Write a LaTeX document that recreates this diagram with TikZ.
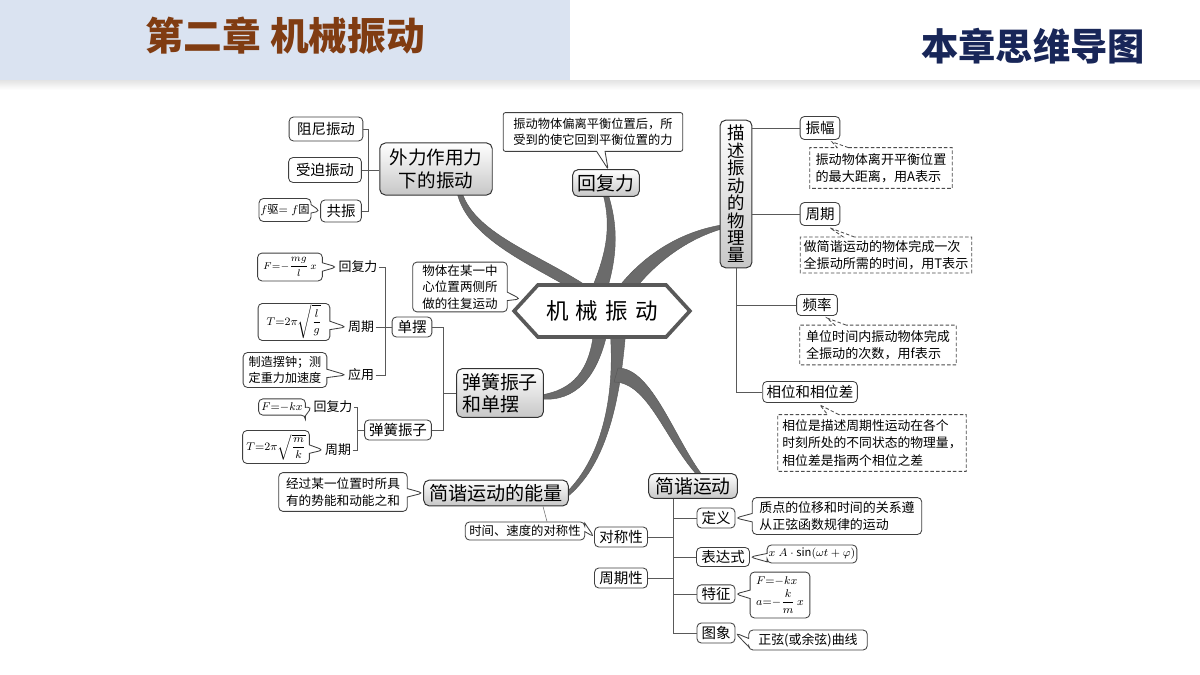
\documentclass[tikz,border=0pt]{standalone}
\usepackage{fontspec}
\setmainfont{Noto Sans CJK SC}
\usetikzlibrary{shapes.symbols,shapes.callouts,calc}
\pgfdeclarelayer{bg}
\pgfsetlayers{bg,main}
\definecolor{headbg}{RGB}{218,227,241}
\definecolor{titlebrown}{RGB}{128,60,18}
\definecolor{navy}{RGB}{24,38,88}
\newcommand{\fs}[2]{\fontsize{#1}{#2}\selectfont}
\tikzset{
 wire/.style={draw=black!65, line width=0.6pt},
 branch/.style={fill=black!58, draw=black!66, line width=0.3pt},
 sz/.style 2 args={minimum width=#1pt, minimum height=#2pt},
 sbox/.style={draw=black!75, line width=0.6pt, rounded corners=3pt, fill=white, inner sep=1pt, font=\fs{10.3}{12}},
 gbox/.style={draw=black!80, line width=0.7pt, rounded corners=4pt, top color=white, bottom color=black!22, inner sep=1pt, align=center, font=\fs{13.4}{16}},
 lbl/.style={inner sep=1pt, font=\fs{9.2}{11}},
 cnote/.style={rectangle callout, draw=black!75, line width=0.6pt, rounded corners=3pt, fill=white, inner sep=1pt, align=left, font=\fs{9}{11.8}, callout pointer width=6pt},
 dnote/.style={rectangle callout, draw=black!70, line width=0.6pt, dash pattern=on 2.5pt off 1.5pt, fill=white, inner sep=1pt, align=left, font=\fs{9.3}{12}, callout pointer width=8pt},
}
\begin{document}
\begin{tikzpicture}[x=0.025cm,y=-0.025cm]
\useasboundingbox (0,0) rectangle (1200,675);
\begin{pgfonlayer}{bg}
\fill[white] (0,0) rectangle (1200,675);
\fill[headbg] (0,0) rectangle (570,80);
\shade[top color=black!10, bottom color=white] (0,81) rectangle (1200,90);
\end{pgfonlayer}
% header
\node[font=\fs{27.5}{30}\bfseries, text=titlebrown] (title) at (285,36) {第二章 机械振动};
\node[font=\fs{26.5}{28}\bfseries, text=navy] (sub) at (1033,46) {本章思维导图};

% centre
\node[signal, signal to=west and east, signal pointer angle=95, draw=black!65, line width=2.6pt, fill=white, minimum width=125pt, minimum height=37pt, font=\fs{16}{16}] (hex) at (602,311) {机\hspace{5pt}械\hspace{5pt}振\hspace{5pt}动};

% top-left group
\node[gbox, sz={80}{37}, font=\fs{13.2}{16.3}] (ext) at (436,169) {外力作用力\\下的振动};
\node[sbox, sz={52.4}{17}] (zuni) at (326,129) {阻尼振动};
\node[sbox, sz={51.7}{17.7}] (shoupo) at (325,170) {受迫振动};
\node[sbox, sz={29}{15.6}] (gongzhen) at (341,211) {共振};
\node[cnote, sz={34}{16.3}, font=\fs{8}{10}, callout absolute pointer={(gongzhen.west)}] (fq) at (285,210) {$f$驱$=f$固};

% restoring force
\node[gbox, sz={47.5}{19.1}] (fuhuili) at (606,183) {回复力};
\node[cnote, sz={127.6}{27.6}, font=\fs{8.7}{11.8}, rounded corners=1.5pt, callout absolute pointer={($(fuhuili.north)+(2,0)$)}] (fhnote) at (593,132) {振动物体偏离平衡位置后，所\\受到的使它回到平衡位置的力};

% physical quantities
\node[gbox, sz={22.7}{105}, font=\fs{12.4}{12.4}] (miaoshu) at (736,194) {描\\述\\振\\动\\的\\物\\理\\量};
\node[sbox, sz={28.3}{16.3}] (zhenfu) at (820,128) {振幅};
\node[sbox, sz={28.3}{16.3}] (zhouqi) at (820,214) {周期};
\node[sbox, sz={29}{15}] (pinlv) at (817,305) {频率};
\node[sbox, sz={67.3}{15}] (xiangwei) at (810,392) {相位和相位差};
\node[dnote, sz={101.3}{29}, callout absolute pointer={($(zhenfu.south)+(12,2)$)}] (zfnote) at (881,168) {振动物体离开平衡位置\\的最大距离，用A表示};
\node[dnote, sz={121.9}{25.5}, callout absolute pointer={($(zhouqi.south)+(10,2)$)}] (zqnote) at (886,255) {做简谐运动的物体完成一次\\全振动所需的时间，用T表示};
\node[dnote, sz={111.3}{28.3}, callout absolute pointer={($(pinlv.south)+(10,2)$)}] (plnote) at (878,345) {单位时间内振动物体完成\\全振动的次数，用f表示};
\node[dnote, sz={134}{40.4}, font=\fs{9.1}{12.4}, callout absolute pointer={($(xiangwei.south)+(10,2)$)}] (xwnote) at (872,443) {相位是描述周期性运动在各个\\时刻所处的不同状态的物理量，\\相位差是指两个相位之差};

% left: definition + springs/pendulum
\node[cnote, sz={67.3}{35.4}, font=\fs{8.9}{11.8}, callout absolute pointer={($(hex.west)+(9,-12)$)}] (wtnote) at (460,287) {物体在某一中\\心位置两侧所\\做的往复运动};
\node[gbox, sz={61.7}{34.7}, align=left, font=\fs{13.5}{15.4}] (tanhuang) at (500,393) {弹簧振子\\和单摆};
\node[sbox, sz={28.3}{14.2}] (danbai) at (412,327) {单摆};
\node[sbox, sz={47.5}{14.2}] (thzz) at (398,430) {弹簧振子};
\node[lbl] (dbf) at (358,267) {回复力};
\node[lbl] (dbT) at (361,327) {周期};
\node[lbl] (dby) at (361,375) {应用};
\node[lbl] (thf) at (333,407) {回复力};
\node[lbl] (thT) at (338,450) {周期};
\node[cnote, sz={46}{19.8}, font=\fs{7.5}{9}, callout absolute pointer={(dbf.west)}] (c1) at (290,267) {$F{=}{-}\displaystyle\frac{mg}{l}\,x$};
\node[cnote, sz={51}{24.8}, font=\fs{8}{10}, callout absolute pointer={(dbT.west)}] (c2) at (294,322) {$T{=}2\pi\sqrt{\displaystyle\frac{l}{g}}$};
\node[cnote, sz={59.5}{24.8}, font=\fs{8.6}{11.5}, callout absolute pointer={(dby.west)}] (c3) at (285,370) {制造摆钟；测\\定重力加速度};
\node[cnote, sz={33.3}{11.5}, font=\fs{8}{10}, callout absolute pointer={(thf.west)}] (c4) at (282,407) {$F{=}{-}kx$};
\node[cnote, sz={47.5}{23.4}, font=\fs{8}{10}, callout absolute pointer={(thT.west)}] (c5) at (276,447) {$T{=}2\pi\sqrt{\displaystyle\frac{m}{k}}$};

% bottom
\node[gbox, sz={102.8}{18.4}, font=\fs{13.6}{16}] (nl) at (496,493) {简谐运动的能量};
\node[cnote, sz={91.4}{27.6}, font=\fs{9}{11.8}, callout absolute pointer={(nl.west)}] (nlnote) at (343,492) {经过某一位置时所具\\有的势能和动能之和};
\node[sbox, sz={37.6}{14.2}] (dcx) at (621,537) {对称性};
\node[sbox, sz={37.6}{14.2}] (zqx) at (621,578) {周期性};
\node[cnote, sz={85}{12.8}, font=\fs{8.8}{10}, callout absolute pointer={(dcx.west)}] (dcnote) at (525,531) {时间、速度的对称性};
\node[gbox, sz={63}{17.7}] (jy) at (693,486) {简谐运动};
\node[sbox, sz={27}{14.2}] (dy) at (716,518) {定义};
\node[sbox, sz={37.6}{13.5}] (bds) at (723,557) {表达式};
\node[sbox, sz={27}{13}] (tz) at (716,594) {特征};
\node[sbox, sz={27}{14.2}] (tx) at (716,633) {图象};
\node[cnote, sz={120.5}{26.2}, font=\fs{9.2}{11.8}, callout absolute pointer={(dy.east)}] (dynote) at (837,516) {质点的位移和时间的关系遵\\从正弦函数规律的运动};
\node[cnote, sz={63.8}{12.8}, font=\fs{8}{10}, callout absolute pointer={(bds.east)}] (bdsnote) at (812,554) {$x\;A\cdot\sin(\omega t+\varphi)$};
\node[cnote, sz={42.5}{32.6}, font=\fs{8}{10}, callout absolute pointer={(tz.east)}] (tznote) at (780,595) {$F{=}{-}kx$\\[2pt]$a{=}{-}\displaystyle\frac{k}{m}\,x$};
\node[cnote, sz={84.3}{14.2}, font=\fs{9.2}{11}, callout absolute pointer={(tx.east)}] (txnote) at (808,640) {正弦(或余弦)曲线};

% connectors
\coordinate (b1) at (368,170);
\draw[wire] (zuni.east) -| (b1);
\draw[wire] (gongzhen.east) -| (b1);
\draw[wire] (shoupo.east) -- (shoupo.east -| ext.west);
\coordinate (b2) at (385,327);
\draw[wire] (dbf.east) -| (b2);
\draw[wire] (dby.east) -| (b2);
\draw[wire] (dbT.east) -- (danbai.west);
\coordinate (b3) at (357,430);
\draw[wire] (thf.east) -| (b3);
\draw[wire] (thT.east) -| (b3);
\draw[wire] (b3) -- (thzz.west);
\coordinate (b4) at (443,393);
\draw[wire] (danbai.east) -| (b4);
\draw[wire] (thzz.east) -| (b4);
\draw[wire] (b4) -- (b4 -| tanhuang.west);
\draw[wire] (zhenfu.west) -- (zhenfu.west -| miaoshu.east);
\draw[wire] (zhouqi.west) -- (zhouqi.west -| miaoshu.east);
\draw[wire] (miaoshu.south) |- (xiangwei.west);
\draw[wire] (pinlv.west) -- (pinlv.west -| miaoshu.south);
\coordinate (b5) at ($(jy.south)+(-20,0)$);
\draw[wire] (b5) |- (tx.west);
\draw[wire] (dy.west) -- (dy.west -| b5);
\draw[wire] (bds.west) -- (bds.west -| b5);
\draw[wire] (tz.west) -- (tz.west -| b5);
\draw[wire] (dcx.east) -- (dcx.east -| b5);
\draw[wire] (zqx.east) -- (zqx.east -| b5);
\draw[black!55, line width=0.4pt] ($(nl.south)+(47,0)$) -- ($(dcnote.north)+(22,0)$);

% thick branches
\begin{pgfonlayer}{bg}
\fill[branch] ($(ext.south)+(21,-3)$) .. controls (468,240) and (535,266) .. ($(hex.center)+(-24,-18)$) -- ($(hex.center)+(-8,-20)$) .. controls (545,256) and (476,236) .. ($(ext.south)+(26,-3)$) -- cycle;
\fill[branch] ($(fuhuili.south)+(-3,-3)$) .. controls (612,228) and (606,255) .. ($(hex.center)+(-12,-18)$) -- ($(hex.center)+(4,-18)$) .. controls (618,255) and (618,225) .. ($(fuhuili.south)+(2,-3)$) -- cycle;
\fill[branch] ($(miaoshu.west)+(2,31)$) .. controls (680,232) and (642,255) .. ($(hex.center)+(12,-18)$) -- ($(hex.center)+(30,-18)$) .. controls (652,266) and (684,240) .. ($(miaoshu.west)+(2,35)$) -- cycle;
\fill[branch] ($(tanhuang.east)+(-3,2)$) .. controls (572,390) and (590,372) .. ($(hex.center)+(-8,18)$) -- ($(hex.center)+(6,18)$) .. controls (598,378) and (575,402) .. ($(tanhuang.east)+(-3,6)$) -- cycle;
\fill[branch] ($(nl.east)+(-3,0)$) .. controls (600,460) and (616,400) .. ($(hex.center)+(8,18)$) -- ($(hex.center)+(24,18)$) .. controls (622,372) and (615,460) .. ($(nl.east)+(-3,5)$) -- cycle;
\fill[branch] ($(jy.north)+(5,3)$) .. controls (665,440) and (648,382) .. (614,382) -- (618,368) .. controls (652,368) and (675,440) .. ($(jy.north)+(10,3)$) -- cycle;
\end{pgfonlayer}
\end{tikzpicture}
\end{document}
